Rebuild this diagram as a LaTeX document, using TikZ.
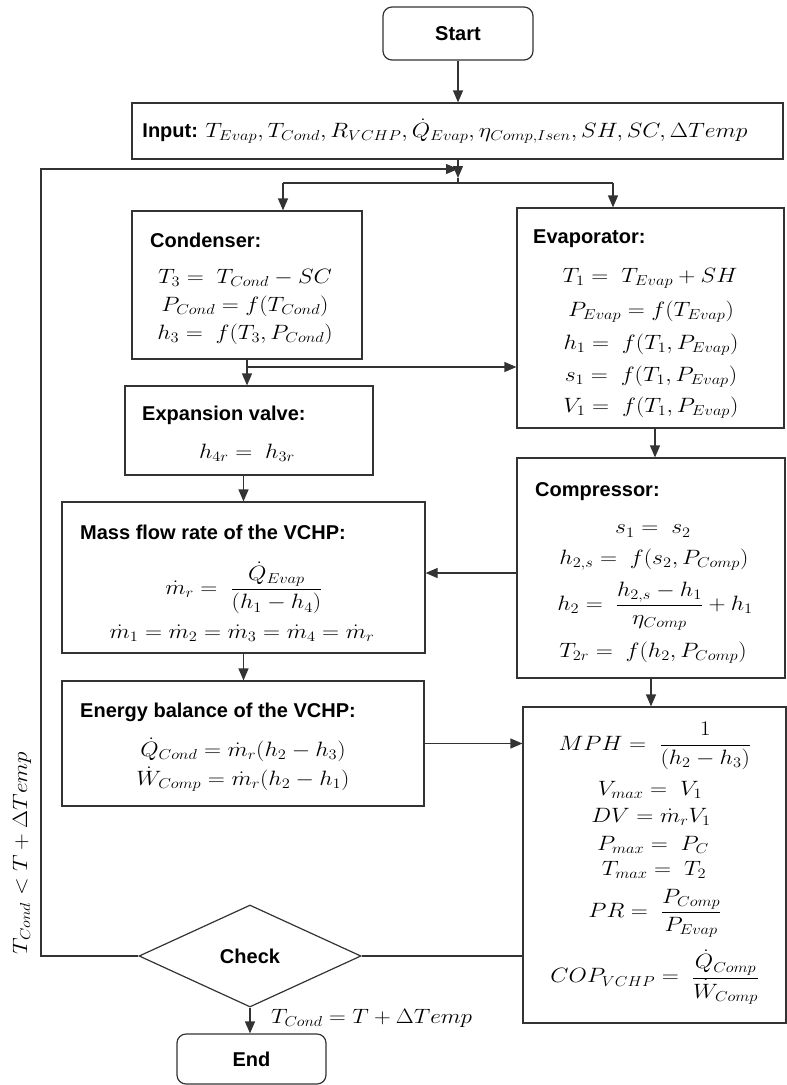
\documentclass[tikz,border=0pt]{standalone}
\usepackage[no-math]{fontspec}
\setmainfont{Liberation Sans}
\usetikzlibrary{arrows.meta,shapes.geometric}
\newcommand\mq[1]{\scalebox{1.14}[1]{$\displaystyle #1$}}
\begin{document}
\begin{tikzpicture}[x=1pt,y=-1pt,
  line/.style={draw=black!80, line width=1.2pt},
  arr/.style={line, -{Triangle[length=12pt,width=10pt]}},
  blk/.style={line, rectangle, inner sep=0pt},
  term/.style={blk, rounded corners=9pt, font=\fontsize{20}{24}\selectfont\bfseries},
  ttl/.style={anchor=west, inner sep=0pt, font=\fontsize{20}{24}\selectfont\bfseries},
  eq/.style={inner sep=0pt, font=\fontsize{20}{24}\selectfont},
]
\useasboundingbox (0,0) rectangle (787,1085);
% terminals
\node[term, minimum width=150pt, minimum height=53pt] (start) at (458,33.5) {Start};
\node[term, minimum width=149pt, minimum height=50pt] (end) at (251.5,1059) {End};
% input
\node[blk, minimum width=651pt, minimum height=56pt] (input) at (457.5,131) {};
\node[eq] (inputtxt) at (445,131) {{\bfseries Input:} \mq{T_{Evap}, T_{Cond}, R_{VCHP}, \dot{Q}_{Evap}, \eta_{Comp,Isen}, SH, SC, \Delta Temp}};
% condenser
\node[blk, minimum width=230pt, minimum height=148pt] (cond) at (247,285) {};
\node[ttl] (condt) at (150,240) {Condenser:};
\node[eq] (conde1) at (245,278) {\mq{T_3 = \ T_{Cond} - SC}};
\node[eq] (conde2) at (245,306) {\mq{P_{Cond} = f(T_{Cond})}};
\node[eq] (conde3) at (245,334) {\mq{h_3 = \ f(T_3, P_{Cond})}};
% evaporator
\node[blk, minimum width=267pt, minimum height=220pt] (evap) at (650.5,318) {};
\node[ttl] (evapt) at (533,239) {Evaporator:};
\node[eq] (evape1) at (650,278) {\mq{T_1 = \ T_{Evap} + SH}};
\node[eq] (evape2) at (651,312) {\mq{P_{Evap} = f\bigl(T_{Evap}\bigr)}};
\node[eq] (evape3) at (651,345) {\mq{h_1 = \ f\bigl(T_1, P_{Evap}\bigr)}};
\node[eq] (evape4) at (651,377) {\mq{s_1 = \ f\bigl(T_1, P_{Evap}\bigr)}};
\node[eq] (evape5) at (651,408) {\mq{V_1 = \ f\bigl(T_1, P_{Evap}\bigr)}};
% expansion valve
\node[blk, minimum width=248pt, minimum height=89pt] (exp) at (249,430.5) {};
\node[ttl] (expt) at (142,415) {Expansion valve:};
\node[eq] (expe1) at (247,453) {\mq{h_{4r} = \ h_{3r}}};
% mass flow
\node[blk, minimum width=363pt, minimum height=151pt] (mass) at (243.5,577.5) {};
\node[ttl] (masst) at (80,532) {Mass flow rate of the VCHP:};
\node[eq] (masse1) at (244,588) {\mq{\dot m_r = \ \frac{\dot Q_{Evap}}{(h_1 - h_4)}}};
\node[eq] (masse2) at (242,633) {\mq{\dot m_1 = \dot m_2 = \dot m_3 = \dot m_4 = \dot m_r}};
% compressor
\node[blk, minimum width=268pt, minimum height=220pt] (comp) at (651,568) {};
\node[ttl] (compt) at (535,492) {Compressor:};
\node[eq] (compe1) at (653,531) {\mq{s_1 = \ s_2}};
\node[eq] (compe2) at (654,560) {\mq{h_{2,s} = \ f\bigl(s_2, P_{Comp}\bigr)}};
\node[eq] (compe3) at (655,606) {\mq{h_2 = \ \frac{h_{2,s} - h_1}{\eta_{Comp}} + h_1}};
\node[eq] (compe4) at (653,653) {\mq{T_{2r} = \ f\bigl(h_2, P_{Comp}\bigr)}};
% energy balance
\node[blk, minimum width=362pt, minimum height=125pt] (energy) at (243,743.5) {};
\node[ttl] (energyt) at (80,712) {Energy balance of the VCHP:};
\node[eq] (energye1) at (243,750) {\mq{\dot Q_{Cond} = \dot m_r (h_2 - h_3)}};
\node[eq] (energye2) at (243,779) {\mq{\dot W_{Comp} = \dot m_r (h_2 - h_1)}};
% results
\node[blk, minimum width=263pt, minimum height=316pt] (mph) at (654.5,865) {};
\node[eq] (mphe1) at (655,746) {\mq{MPH = \ \frac{1}{(h_2 - h_3)}}};
\node[eq] (mphe2) at (650,790) {\mq{V_{max} = \ V_1}};
\node[eq] (mphe3) at (651,817) {\mq{DV = \dot m_r V_1}};
\node[eq] (mphe4) at (653,845) {\mq{P_{max} = \ P_C}};
\node[eq] (mphe5) at (654,870) {\mq{T_{max} = \ T_2}};
\node[eq] (mphe6) at (655,913) {\mq{PR = \ \frac{P_{Comp}}{P_{Evap}}}};
\node[eq] (mphe7) at (655,977) {\mq{COP_{VCHP} = \ \frac{\dot Q_{Comp}}{\dot W_{Comp}}}};
% check
\node[line, diamond, aspect=2.2, minimum width=222pt, minimum height=102pt, inner sep=0pt,
      font=\fontsize{20}{24}\selectfont\bfseries] (check) at (250,956) {Check};
% labels
\node[eq, anchor=west] (tlbl) at (271,1018) {\scalebox{1.12}[1]{$T_{Cond} = T + \Delta Temp$}};
\node[eq, rotate=90] (rlbl) at (22,853) {\scalebox{1.12}[1]{$T_{Cond} < T + \Delta Temp$}};
% connectors
\coordinate (j) at (458,183);
\coordinate (jt) at (458,178);
\coordinate (lc) at (41,169);
\coordinate (le) at (458,169);
\coordinate (bl) at (283,183);
\coordinate (br) at (613,183);
\coordinate (cx) at (247,367);
\coordinate (ca) at (517,573);
\coordinate (ea) at (655,428);
\draw[arr] (start.south) -- (start.south |- input.north);
\draw[arr] (input.south -| jt) -- (jt);
\draw[line] (jt) -- (j);
\draw[arr] (check.west) -| (lc) -- (le);
\draw[line] (bl) -- (br);
\draw[arr] (bl) -- (bl |- cond.north);
\draw[arr] (br) -- (br |- evap.north);
\draw[arr] (cond.south) -- (cond.south |- exp.north);
\draw[arr] (cx) -- (cx -| evap.west);
\draw[arr] (exp.south -| mass.north) -- (mass.north);
\draw[arr] (mass.south) -- (mass.south |- energy.north);
\draw[arr] (ca) -- (ca -| mass.east);
\draw[arr] (ea |- evap.south) -- (ea |- comp.north);
\draw[arr] (comp.south) -- (comp.south |- mph.north);
\draw[arr] (energy.east) -- (energy.east -| mph.west);
\draw[line] (check.east) -- (check.east -| mph.west);
\draw[arr] (check.south) -- (check.south |- end.north);
\end{tikzpicture}
\end{document}
